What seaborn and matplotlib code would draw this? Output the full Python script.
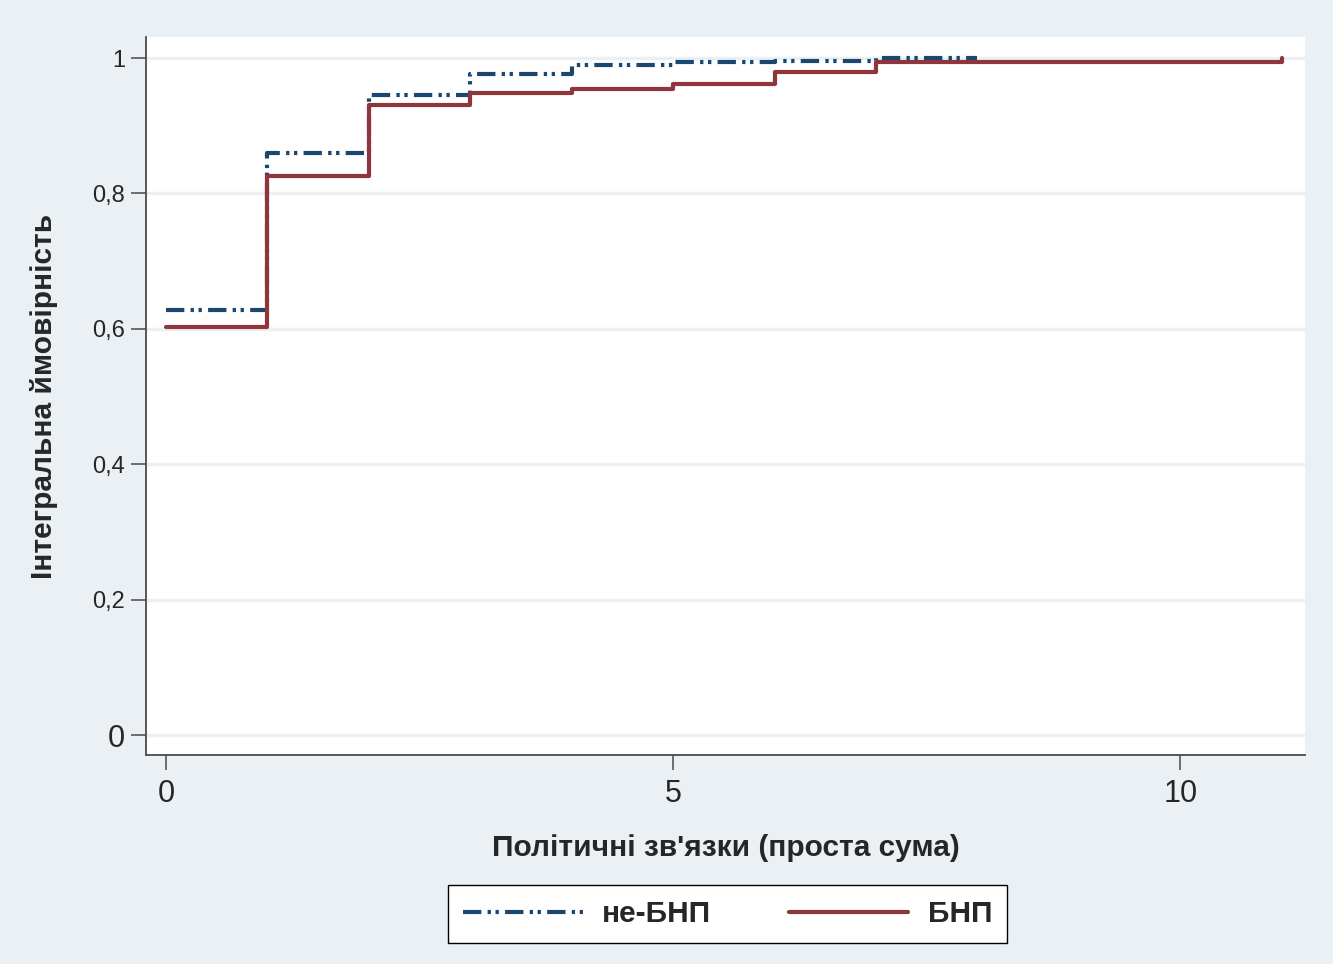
import numpy as np
import pandas as pd
import matplotlib
matplotlib.use("Agg")
import matplotlib.pyplot as plt
import seaborn as sns

# Cumulative probability of political connections (simple sum), by group
x_non = [0, 1, 2, 3, 4, 5, 6, 7, 8]
cdf_non = [0.628, 0.860, 0.945, 0.977, 0.990, 0.9935, 0.9956, 1.0, 1.0]

x_bnp = [0, 1, 2, 3, 4, 5, 6, 7, 8, 9, 10, 11]
cdf_bnp = [0.603, 0.826, 0.930, 0.948, 0.954, 0.961, 0.980, 0.9935,
           0.9935, 0.9935, 0.9935, 1.0]

label_non = "не-БНП"
label_bnp = "БНП"
x_title = "Політичні зв'язки (проста сума)"
y_title = "Інтегральна ймовірність"
y_ticks = [0, 0.2, 0.4, 0.6, 0.8, 1.0]
y_tick_labels = ["0", "0,2", "0,4", "0,6", "0,8", "1"]
x_ticks = [0, 5, 10]

BG = "#eaf0f3"
NAVY = "#1a476f"
MAROON = "#90353b"

sns.set_style("white", {"axes.facecolor": "white", "figure.facecolor": BG})
plt.rcParams["font.family"] = ["Liberation Sans", "DejaVu Sans"]

fig = plt.figure(figsize=(13.33, 9.64), dpi=100, facecolor=BG)
ax = fig.add_axes([0.1095, 0.2168, 0.8695, 0.7448])

df_non = pd.DataFrame({"x": x_non, "p": cdf_non})
df_bnp = pd.DataFrame({"x": x_bnp, "p": cdf_bnp})

sns.lineplot(data=df_non, x="x", y="p", ax=ax, color=NAVY, linewidth=3.0,
             drawstyle="steps-post", zorder=2)
line_non = ax.lines[-1]
line_non.set_linestyle((0, (4.4, 1.5, 0.8, 1.1, 0.8, 1.5)))

sns.lineplot(data=df_bnp, x="x", y="p", ax=ax, color=MAROON, linewidth=3.0,
             drawstyle="steps-post", zorder=3)
line_bnp = ax.lines[-1]

ax.set_xlim(-0.197, 11.23)
ax.set_ylim(-0.0295, 1.031)

# horizontal grid at the y ticks
for yv in y_ticks:
    ax.axhline(yv, color=BG, linewidth=2.5, zorder=1)

ax.set_yticks(y_ticks)
ax.set_yticklabels(y_tick_labels)
ax.set_xticks(x_ticks)
ax.set_xticklabels([str(v) for v in x_ticks])

for s in ["top", "right"]:
    ax.spines[s].set_visible(False)
for s in ["left", "bottom"]:
    ax.spines[s].set_color("#4a4a4a")
    ax.spines[s].set_linewidth(1.3)

ax.tick_params(axis="y", direction="out", length=11, width=1.1, color="#4a4a4a",
               labelsize=17, pad=4, left=True)
ax.tick_params(axis="x", direction="out", length=11, width=1.1, color="#4a4a4a",
               labelsize=22, pad=6, bottom=True)
for lbl in ax.get_yticklabels():
    if lbl.get_text() == "0":
        lbl.set_fontsize(22)

ax.set_xlabel(x_title, fontsize=21.5, fontweight="bold", labelpad=18)
ax.set_ylabel(y_title, fontsize=21.5, fontweight="bold", labelpad=25)

leg = fig.legend([line_non, line_bnp], [label_non, label_bnp],
                 loc="center", bbox_to_anchor=(0.5458, 0.0519), ncol=2,
                 frameon=True, fancybox=False, framealpha=1,
                 edgecolor="black", facecolor="white",
                 prop={"size": 21.5, "weight": "bold"},
                 handlelength=4.0, columnspacing=2.6, handletextpad=0.65,
                 borderpad=0.5, borderaxespad=0)
leg.get_frame().set_linewidth(1.0)

fig.savefig("out.png", dpi=100, facecolor=BG)
